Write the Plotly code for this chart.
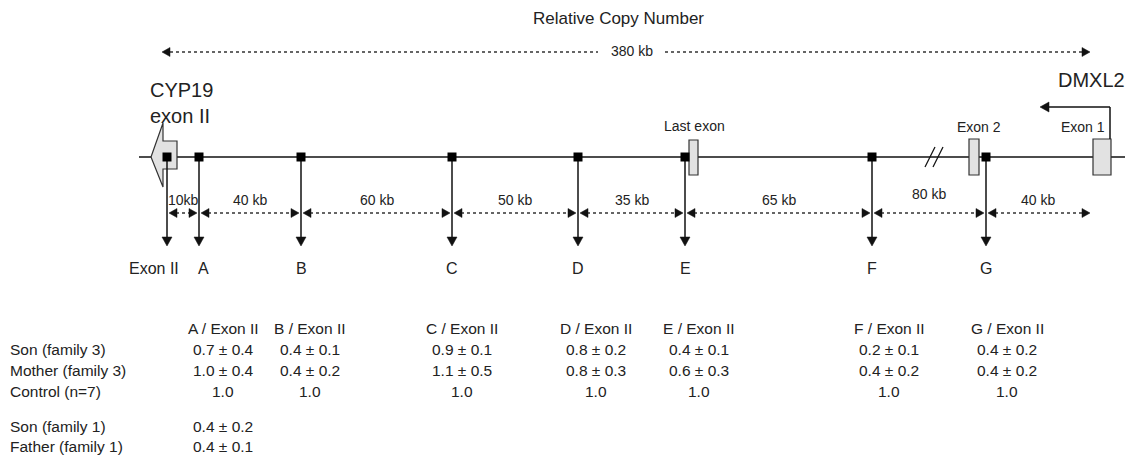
import plotly.graph_objects as go

# ---------------- data ----------------
marker_names = ["Exon II", "A", "B", "C", "D", "E", "F", "G"]
distance_labels = ["10kb", "40 kb", "60 kb", "50 kb", "35 kb", "65 kb", "80 kb", "40 kb"]
span_label = "380 kb"
title_text = "Relative Copy Number"

column_headers = ["A / Exon II", "B / Exon II", "C / Exon II", "D / Exon II",
                  "E / Exon II", "F / Exon II", "G / Exon II"]
row_labels = ["Son (family 3)", "Mother (family 3)", "Control (n=7)"]
son3_mean = [0.7, 0.4, 0.9, 0.8, 0.4, 0.2, 0.4]
son3_sd = [0.4, 0.1, 0.1, 0.2, 0.1, 0.1, 0.2]
mother3_mean = [1.0, 0.4, 1.1, 0.8, 0.6, 0.4, 0.4]
mother3_sd = [0.4, 0.2, 0.5, 0.3, 0.3, 0.2, 0.2]
control_mean = [1.0, 1.0, 1.0, 1.0, 1.0, 1.0, 1.0]

family1_labels = ["Son (family 1)", "Father (family 1)"]
family1_mean = [0.4, 0.4]
family1_sd = [0.2, 0.1]

# ---------------- layout positions (pixels) ----------------
W, H = 1131, 467
marker_x = [167, 199, 301, 452, 578, 685, 872, 986]
line_y = 157
col_x = [223, 310, 462, 596, 699, 889, 1007]
header_y = 328
row_y = [349, 370, 391]
fam1_y = [426, 446]
dist_y = 213
dist_label_dy = [0, 0, 0, 0, 0, 0, -6, 0]
right_end = 1090

TXT = "#222222"
FONT = "Liberation Sans, Arial, sans-serif"

shapes = []
annotations = []


def line(x0, y0, x1, y1, width=1.5, dash=None, color="#111111"):
    d = dict(type="line", x0=x0, y0=y0, x1=x1, y1=y1, xref="x", yref="y",
             line=dict(color=color, width=width))
    if dash:
        d["line"]["dash"] = dash
    shapes.append(d)


def head(tx, ty, direction, length=8, half=4.5, color="#111111"):
    if direction == "left":
        pts = [(tx, ty), (tx + length, ty - half), (tx + length, ty + half)]
    elif direction == "right":
        pts = [(tx, ty), (tx - length, ty - half), (tx - length, ty + half)]
    else:  # down
        pts = [(tx, ty), (tx - half, ty - length), (tx + half, ty - length)]
    path = "M " + " L ".join(f"{x},{y}" for x, y in pts) + " Z"
    shapes.append(dict(type="path", path=path, xref="x", yref="y",
                       fillcolor=color, line=dict(color=color, width=0.5)))


def text(x, y, s, size=15, anchor="center", color=TXT):
    annotations.append(dict(x=x, y=y, xref="x", yref="y", text=s, showarrow=False,
                            xanchor=anchor, yanchor="middle",
                            font=dict(family=FONT, size=size, color=color)))


def box(x0, y0, x1, y1):
    shapes.append(dict(type="rect", x0=x0, y0=y0, x1=x1, y1=y1, xref="x", yref="y",
                       fillcolor="#e2e2e2", line=dict(color="#333333", width=1.2)))


# title and 380 kb span
text(618, 18, title_text, size=17)
span_l, span_r, span_yy = 162, 1090, 52
line(span_l + 8, span_yy, 598, span_yy, width=1.3, dash="dot", color="#333333")
line(665, span_yy, span_r - 8, span_yy, width=1.3, dash="dot", color="#333333")
head(span_l, span_yy, "left")
head(span_r, span_yy, "right")
text(632, span_yy - 1, span_label, size=14)

# main genomic line
line(139, line_y, 1125, line_y, width=1.6)

# break mark
for off in (0, 8):
    line(925 + off, 167, 935 + off, 147, width=1.3)

# CYP19 block arrow
cyp = [(151, 157), (163, 123), (163, 141), (177, 141), (177, 169), (163, 169), (163, 187)]
shapes.append(dict(type="path", path="M " + " L ".join(f"{x},{y}" for x, y in cyp) + " Z",
                   xref="x", yref="y", fillcolor="#e2e2e2",
                   line=dict(color="#333333", width=1.2)))
text(148, 90, "CYP19", size=20, anchor="left")
text(148, 116, "exon II", size=20, anchor="left")

# exon boxes
box(689, 140, 698, 175)
text(694, 126, "Last exon", size=14)
box(969, 139, 979, 175)
text(979, 127, "Exon 2", size=14)
box(1093, 139, 1111, 175)
text(1083, 127, "Exon 1", size=14)

# DMXL2 arrow
line(1110, 139, 1110, 107, width=1.5)
line(1110, 107, 1047, 107, width=1.5)
head(1040, 107, "left", length=9, half=5)
text(1127, 80, "DMXL2", size=20, anchor="right")

# markers, down arrows, letters
for name, mx in zip(marker_names, marker_x):
    line(mx, line_y, mx, 238, width=1.5)
    head(mx, 246, "down", length=9, half=5)
    shapes.append(dict(type="rect", x0=mx - 4.5, y0=line_y - 4.5, x1=mx + 4.5,
                       y1=line_y + 4.5, xref="x", yref="y", fillcolor="#000000",
                       line=dict(color="#000000", width=0)))
    if name == "Exon II":
        text(mx + 14, 268, name, size=16, anchor="right")
    else:
        text(mx + (4 if name == "A" else 0), 268, name, size=16)

# distance arrows
ends = marker_x + [right_end]
for i, lab in enumerate(distance_labels):
    xl = ends[i] + 2
    xr = ends[i + 1] - 2 if i < len(distance_labels) - 1 else ends[i + 1]
    line(xl + 7, dist_y, xr - 7, dist_y, width=1.6, dash="dot", color="#333333")
    head(xl, dist_y, "left", length=8, half=4.5)
    head(xr, dist_y, "right", length=8, half=4.5)
    text((ends[i] + ends[i + 1]) / 2, 200 + dist_label_dy[i], lab, size=14)

# table
def fmt(m, s=None):
    return f"{m:.1f}" if s is None else f"{m:.1f} ± {s:.1f}"

for cx, hdr in zip(col_x, column_headers):
    text(cx, header_y, hdr, size=15.5)
for ry, lab in zip(row_y, row_labels):
    text(8, ry, lab, size=15.5, anchor="left")
for j, cx in enumerate(col_x):
    text(cx, row_y[0], fmt(son3_mean[j], son3_sd[j]), size=15.5)
    text(cx, row_y[1], fmt(mother3_mean[j], mother3_sd[j]), size=15.5)
    text(cx, row_y[2], fmt(control_mean[j]), size=15.5)
for fy, lab, m, s in zip(fam1_y, family1_labels, family1_mean, family1_sd):
    text(8, fy, lab, size=15.5, anchor="left")
    text(col_x[0], fy, fmt(m, s), size=15.5)

fig = go.Figure()
fig.add_trace(go.Scatter(x=[0, W], y=[0, H], mode="markers",
                         marker=dict(opacity=0), hoverinfo="skip", showlegend=False))
fig.update_layout(
    width=W, height=H, margin=dict(l=0, r=0, t=0, b=0),
    paper_bgcolor="white", plot_bgcolor="white",
    xaxis=dict(range=[0, W], visible=False, fixedrange=True),
    yaxis=dict(range=[H, 0], visible=False, fixedrange=True),
    shapes=shapes, annotations=annotations, showlegend=False,
)
fig.write_html("out.html")
